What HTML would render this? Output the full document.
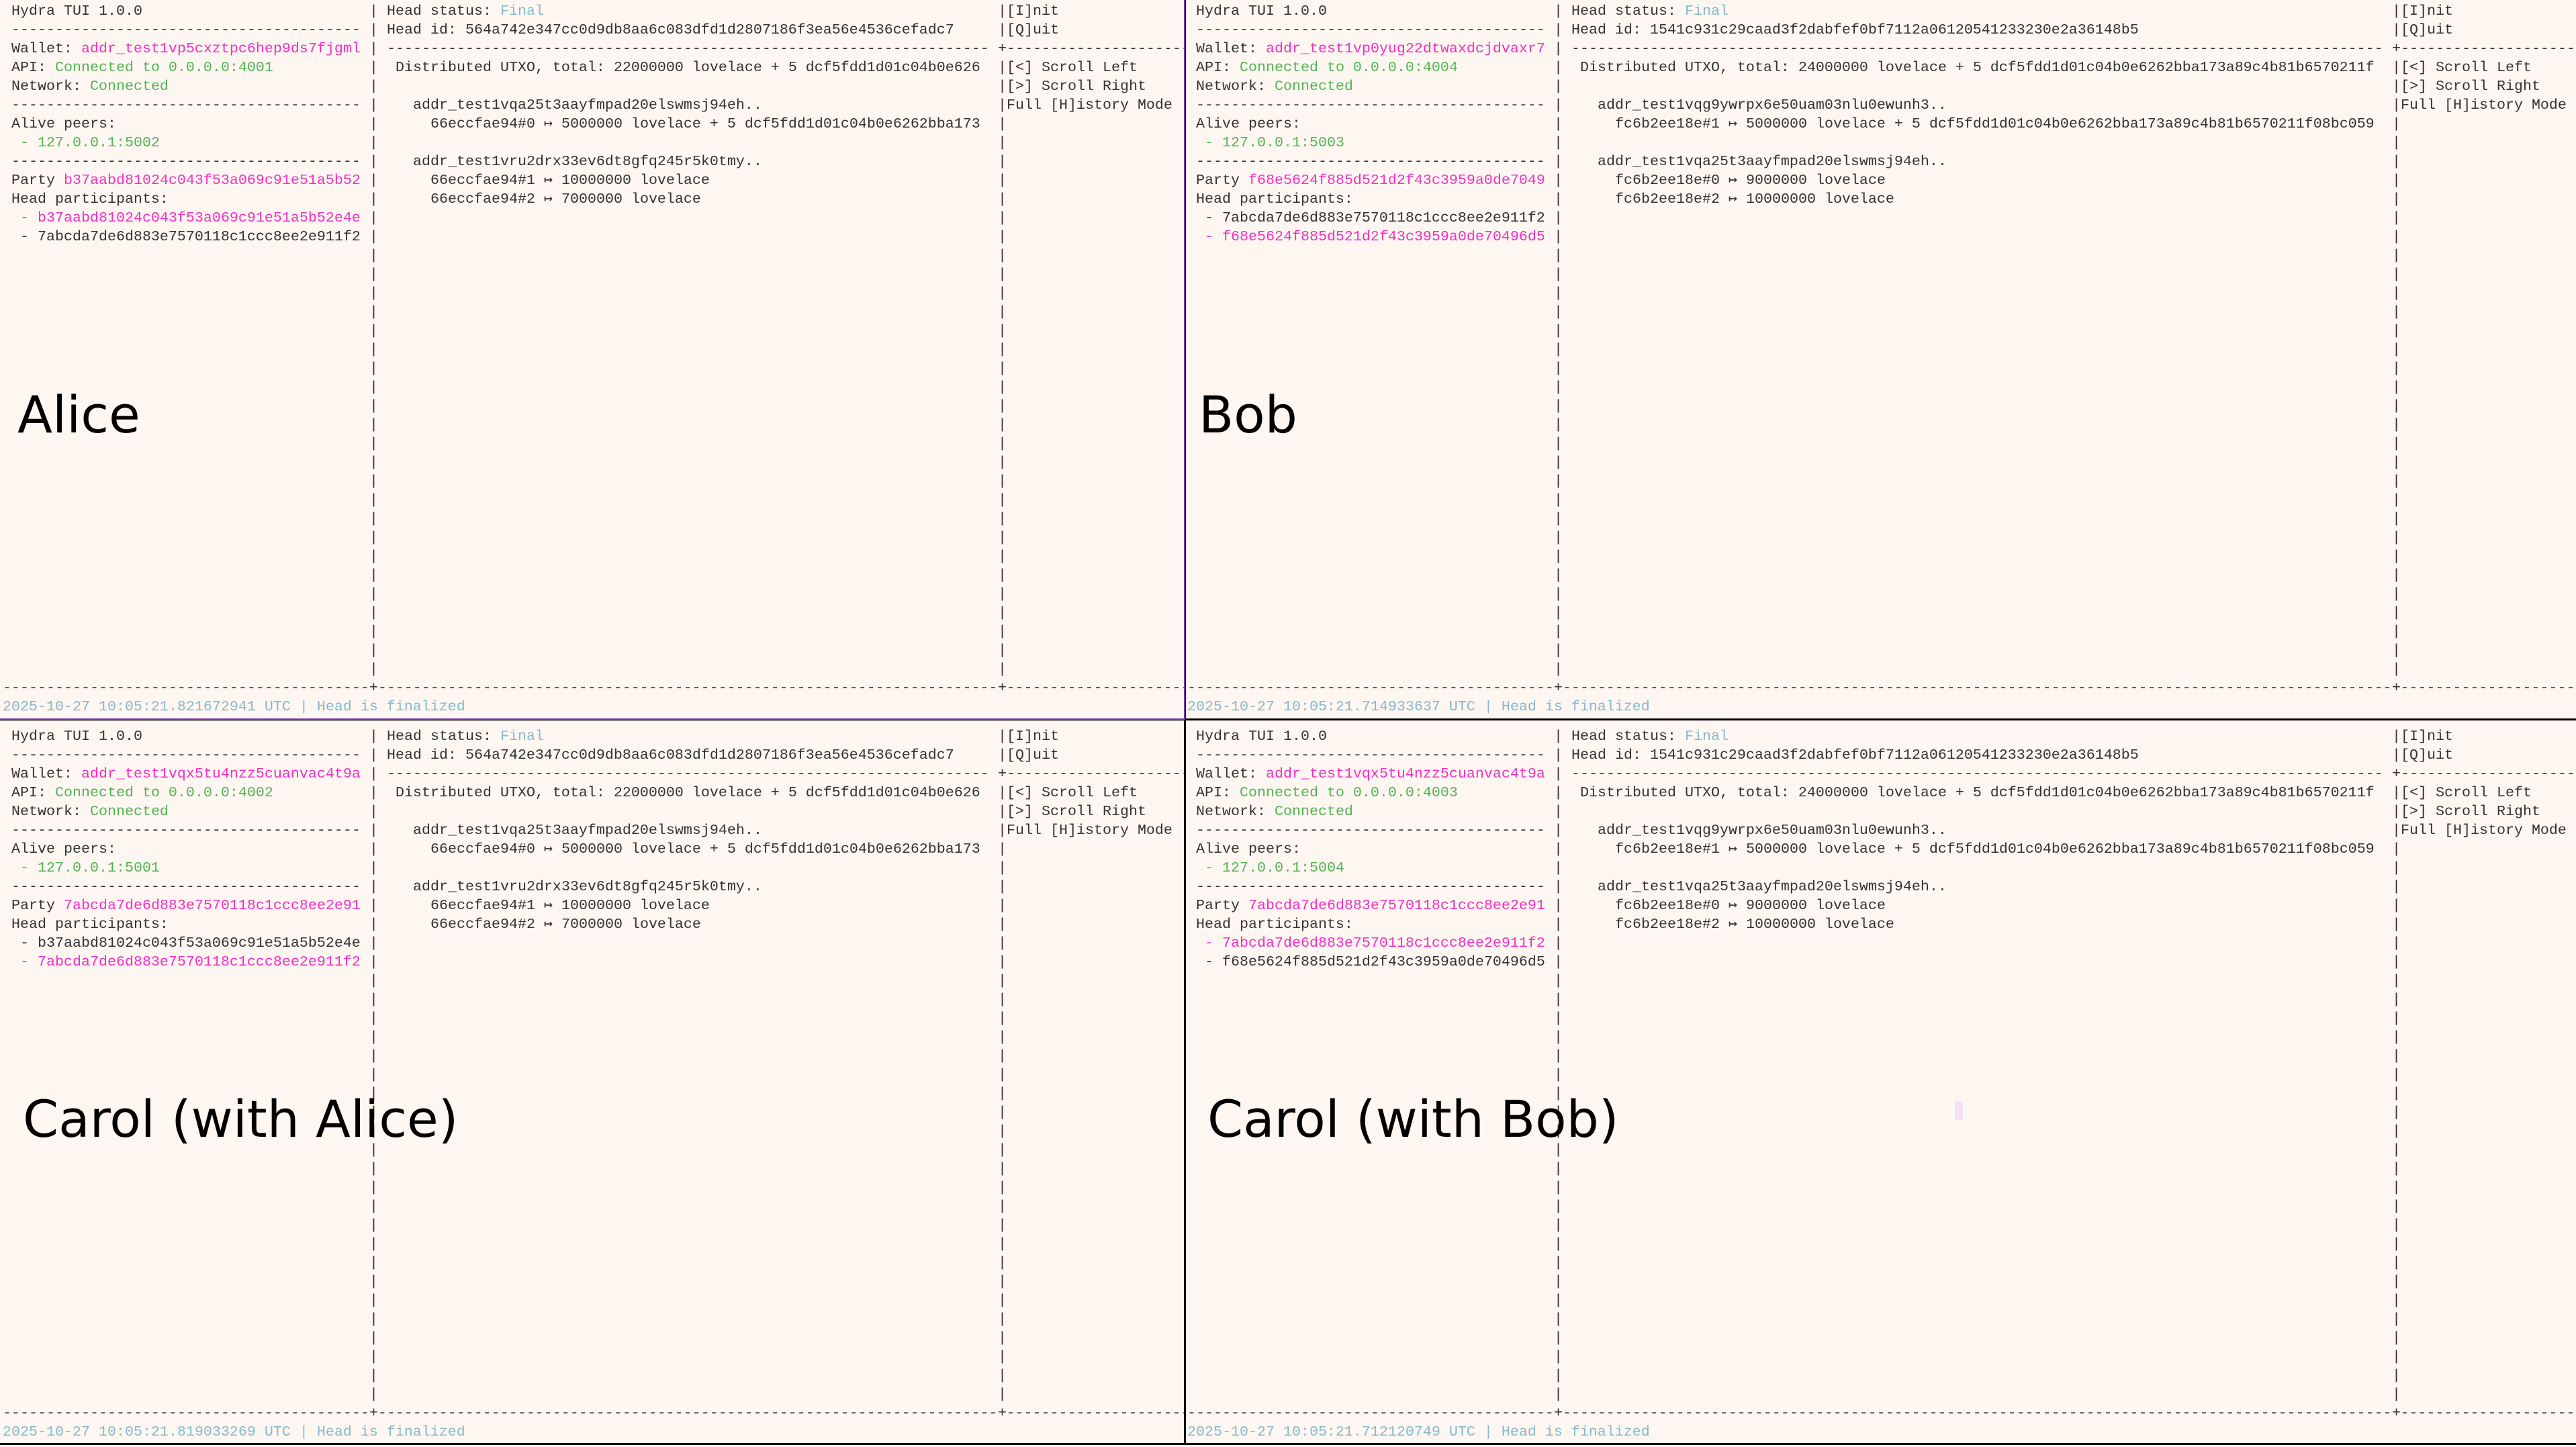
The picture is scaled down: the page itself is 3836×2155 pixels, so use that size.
<!DOCTYPE html>
<html><head><meta charset="utf-8"><style>
body{margin:0;width:3836px;height:2152px;background:#fdf6f1;position:relative;overflow:hidden;font-family:"Liberation Mono","DejaVu Sans Mono",monospace;font-size:21.667px;color:#333}
.q{position:absolute;width:2080px;height:1072px}
.t{position:absolute;white-space:pre;line-height:28px;height:28px}
.d{overflow:hidden}
.v{position:absolute;white-space:pre;line-height:28px;top:0}
.pl{position:absolute;white-space:pre;line-height:28px;background:#fdf6f1;width:13px;top:1008px}
.p{color:#f52ec6}.g{color:#52b452}.b{color:#86b9ca}
.lab{position:absolute;font-family:"DejaVu Sans","Liberation Sans",sans-serif;font-size:76px;line-height:76px;color:#000;white-space:pre}
.line{position:absolute}
</style></head><body>

<!-- ================= TL: Alice ================= -->
<div class="q" style="left:4px;top:3px">
<div class="t" style="top:0;left:13px">Hydra TUI 1.0.0</div>
<div class="t d" style="top:28px;left:13px;width:520px">----------------------------------------------------------------</div>
<div class="t" style="top:56px;left:13px">Wallet: <span class="p">addr_test1vp5cxztpc6hep9ds7fjgml</span></div>
<div class="t" style="top:84px;left:13px">API: <span class="g">Connected to 0.0.0.0:4001</span></div>
<div class="t" style="top:112px;left:13px">Network: <span class="g">Connected</span></div>
<div class="t d" style="top:140px;left:13px;width:520px">----------------------------------------------------------------</div>
<div class="t" style="top:168px;left:13px">Alive peers:</div>
<div class="t g" style="top:196px;left:13px"> - 127.0.0.1:5002</div>
<div class="t d" style="top:224px;left:13px;width:520px">----------------------------------------------------------------</div>
<div class="t" style="top:252px;left:13px">Party <span class="p">b37aabd81024c043f53a069c91e51a5b52</span></div>
<div class="t" style="top:280px;left:13px">Head participants:</div>
<div class="t p" style="top:308px;left:13px"> - b37aabd81024c043f53a069c91e51a5b52e4e</div>
<div class="t" style="top:336px;left:13px"> - 7abcda7de6d883e7570118c1ccc8ee2e911f2</div>
<div class="v" style="left:546px">|
|
|
|
|
|
|
|
|
|
|
|
|
|
|
|
|
|
|
|
|
|
|
|
|
|
|
|
|
|
|
|
|
|
|
|</div>
<div class="t" style="top:0;left:572px">Head status: <span class="b">Final</span></div>
<div class="t" style="top:28px;left:572px">Head id: 564a742e347cc0d9db8aa6c083dfd1d2807186f3ea56e4536cefadc7</div>
<div class="t d" style="top:56px;left:572px;width:897px">--------------------------------------------------------------------------------------------------------------------------------</div>
<div class="t" style="top:84px;left:585px">Distributed UTXO, total: 22000000 lovelace + 5 dcf5fdd1d01c04b0e626</div>
<div class="t" style="top:140px;left:611px">addr_test1vqa25t3aayfmpad20elswmsj94eh..</div>
<div class="t" style="top:168px;left:637px">66eccfae94#0 ↦ 5000000 lovelace + 5 dcf5fdd1d01c04b0e6262bba173</div>
<div class="t" style="top:224px;left:611px">addr_test1vru2drx33ev6dt8gfq245r5k0tmy..</div>
<div class="t" style="top:252px;left:637px">66eccfae94#1 ↦ 10000000 lovelace</div>
<div class="t" style="top:280px;left:637px">66eccfae94#2 ↦ 7000000 lovelace</div>
<div class="v" style="left:1482px">|
|
+
|
|
|
|
|
|
|
|
|
|
|
|
|
|
|
|
|
|
|
|
|
|
|
|
|
|
|
|
|
|
|
|
|</div>
<div class="t" style="top:0;left:1495px">[I]nit</div>
<div class="t" style="top:28px;left:1495px">[Q]uit</div>
<div class="t d" style="top:56px;left:1495px;width:265px">------------------------------</div>
<div class="t" style="top:84px;left:1495px">[&lt;] Scroll Left</div>
<div class="t" style="top:112px;left:1495px">[&gt;] Scroll Right</div>
<div class="t" style="top:140px;left:1495px">Full [H]istory Mode</div>
<div class="t d" style="top:1008px;left:0;width:1760px">------------------------------------------------------------------------------------------------------------------------------------------------------------------------------</div>
<div class="pl" style="left:546px">+</div><div class="pl" style="left:1482px">+</div>
<div class="t b" style="top:1036px;left:0">2025-10-27 10:05:21.821672941 UTC | Head is finalized</div>
</div>

<!-- ================= TR: Bob ================= -->
<div class="q" style="left:1768px;top:3px">
<div class="t" style="top:0;left:13px">Hydra TUI 1.0.0</div>
<div class="t d" style="top:28px;left:13px;width:520px">----------------------------------------------------------------</div>
<div class="t" style="top:56px;left:13px">Wallet: <span class="p">addr_test1vp0yug22dtwaxdcjdvaxr7</span></div>
<div class="t" style="top:84px;left:13px">API: <span class="g">Connected to 0.0.0.0:4004</span></div>
<div class="t" style="top:112px;left:13px">Network: <span class="g">Connected</span></div>
<div class="t d" style="top:140px;left:13px;width:520px">----------------------------------------------------------------</div>
<div class="t" style="top:168px;left:13px">Alive peers:</div>
<div class="t g" style="top:196px;left:13px"> - 127.0.0.1:5003</div>
<div class="t d" style="top:224px;left:13px;width:520px">----------------------------------------------------------------</div>
<div class="t" style="top:252px;left:13px">Party <span class="p">f68e5624f885d521d2f43c3959a0de7049</span></div>
<div class="t" style="top:280px;left:13px">Head participants:</div>
<div class="t" style="top:308px;left:13px"> - 7abcda7de6d883e7570118c1ccc8ee2e911f2</div>
<div class="t p" style="top:336px;left:13px"> - f68e5624f885d521d2f43c3959a0de70496d5</div>
<div class="v" style="left:546px">|
|
|
|
|
|
|
|
|
|
|
|
|
|
|
|
|
|
|
|
|
|
|
|
|
|
|
|
|
|
|
|
|
|
|
|</div>
<div class="t" style="top:0;left:572px">Head status: <span class="b">Final</span></div>
<div class="t" style="top:28px;left:572px">Head id: 1541c931c29caad3f2dabfef0bf7112a06120541233230e2a36148b5</div>
<div class="t d" style="top:56px;left:572px;width:1209px">--------------------------------------------------------------------------------------------------------------------------------</div>
<div class="t" style="top:84px;left:585px">Distributed UTXO, total: 24000000 lovelace + 5 dcf5fdd1d01c04b0e6262bba173a89c4b81b6570211f</div>
<div class="t" style="top:140px;left:611px">addr_test1vqg9ywrpx6e50uam03nlu0ewunh3..</div>
<div class="t" style="top:168px;left:637px">fc6b2ee18e#1 ↦ 5000000 lovelace + 5 dcf5fdd1d01c04b0e6262bba173a89c4b81b6570211f08bc059</div>
<div class="t" style="top:224px;left:611px">addr_test1vqa25t3aayfmpad20elswmsj94eh..</div>
<div class="t" style="top:252px;left:637px">fc6b2ee18e#0 ↦ 9000000 lovelace</div>
<div class="t" style="top:280px;left:637px">fc6b2ee18e#2 ↦ 10000000 lovelace</div>
<div class="v" style="left:1794px">|
|
+
|
|
|
|
|
|
|
|
|
|
|
|
|
|
|
|
|
|
|
|
|
|
|
|
|
|
|
|
|
|
|
|
|</div>
<div class="t" style="top:0;left:1807px">[I]nit</div>
<div class="t" style="top:28px;left:1807px">[Q]uit</div>
<div class="t d" style="top:56px;left:1807px;width:261px">------------------------------</div>
<div class="t" style="top:84px;left:1807px">[&lt;] Scroll Left</div>
<div class="t" style="top:112px;left:1807px">[&gt;] Scroll Right</div>
<div class="t" style="top:140px;left:1807px">Full [H]istory Mode</div>
<div class="t d" style="top:1008px;left:0;width:2068px">----------------------------------------------------------------------------------------------------------------------------------------------------------------------------------------------</div>
<div class="pl" style="left:546px">+</div><div class="pl" style="left:1794px">+</div>
<div class="t b" style="top:1036px;left:0">2025-10-27 10:05:21.714933637 UTC | Head is finalized</div>
</div>

<!-- ================= BL: Carol (with Alice) ================= -->
<div class="q" style="left:4px;top:1083px">
<div class="t" style="top:0;left:13px">Hydra TUI 1.0.0</div>
<div class="t d" style="top:28px;left:13px;width:520px">----------------------------------------------------------------</div>
<div class="t" style="top:56px;left:13px">Wallet: <span class="p">addr_test1vqx5tu4nzz5cuanvac4t9a</span></div>
<div class="t" style="top:84px;left:13px">API: <span class="g">Connected to 0.0.0.0:4002</span></div>
<div class="t" style="top:112px;left:13px">Network: <span class="g">Connected</span></div>
<div class="t d" style="top:140px;left:13px;width:520px">----------------------------------------------------------------</div>
<div class="t" style="top:168px;left:13px">Alive peers:</div>
<div class="t g" style="top:196px;left:13px"> - 127.0.0.1:5001</div>
<div class="t d" style="top:224px;left:13px;width:520px">----------------------------------------------------------------</div>
<div class="t" style="top:252px;left:13px">Party <span class="p">7abcda7de6d883e7570118c1ccc8ee2e91</span></div>
<div class="t" style="top:280px;left:13px">Head participants:</div>
<div class="t" style="top:308px;left:13px"> - b37aabd81024c043f53a069c91e51a5b52e4e</div>
<div class="t p" style="top:336px;left:13px"> - 7abcda7de6d883e7570118c1ccc8ee2e911f2</div>
<div class="v" style="left:546px">|
|
|
|
|
|
|
|
|
|
|
|
|
|
|
|
|
|
|
|
|
|
|
|
|
|
|
|
|
|
|
|
|
|
|
|</div>
<div class="t" style="top:0;left:572px">Head status: <span class="b">Final</span></div>
<div class="t" style="top:28px;left:572px">Head id: 564a742e347cc0d9db8aa6c083dfd1d2807186f3ea56e4536cefadc7</div>
<div class="t d" style="top:56px;left:572px;width:897px">--------------------------------------------------------------------------------------------------------------------------------</div>
<div class="t" style="top:84px;left:585px">Distributed UTXO, total: 22000000 lovelace + 5 dcf5fdd1d01c04b0e626</div>
<div class="t" style="top:140px;left:611px">addr_test1vqa25t3aayfmpad20elswmsj94eh..</div>
<div class="t" style="top:168px;left:637px">66eccfae94#0 ↦ 5000000 lovelace + 5 dcf5fdd1d01c04b0e6262bba173</div>
<div class="t" style="top:224px;left:611px">addr_test1vru2drx33ev6dt8gfq245r5k0tmy..</div>
<div class="t" style="top:252px;left:637px">66eccfae94#1 ↦ 10000000 lovelace</div>
<div class="t" style="top:280px;left:637px">66eccfae94#2 ↦ 7000000 lovelace</div>
<div class="v" style="left:1482px">|
|
+
|
|
|
|
|
|
|
|
|
|
|
|
|
|
|
|
|
|
|
|
|
|
|
|
|
|
|
|
|
|
|
|
|</div>
<div class="t" style="top:0;left:1495px">[I]nit</div>
<div class="t" style="top:28px;left:1495px">[Q]uit</div>
<div class="t d" style="top:56px;left:1495px;width:265px">------------------------------</div>
<div class="t" style="top:84px;left:1495px">[&lt;] Scroll Left</div>
<div class="t" style="top:112px;left:1495px">[&gt;] Scroll Right</div>
<div class="t" style="top:140px;left:1495px">Full [H]istory Mode</div>
<div class="t d" style="top:1008px;left:0;width:1760px">------------------------------------------------------------------------------------------------------------------------------------------------------------------------------</div>
<div class="pl" style="left:546px">+</div><div class="pl" style="left:1482px">+</div>
<div class="t b" style="top:1036px;left:0">2025-10-27 10:05:21.819033269 UTC | Head is finalized</div>
</div>

<!-- ================= BR: Carol (with Bob) ================= -->
<div class="q" style="left:1768px;top:1083px">
<div class="t" style="top:0;left:13px">Hydra TUI 1.0.0</div>
<div class="t d" style="top:28px;left:13px;width:520px">----------------------------------------------------------------</div>
<div class="t" style="top:56px;left:13px">Wallet: <span class="p">addr_test1vqx5tu4nzz5cuanvac4t9a</span></div>
<div class="t" style="top:84px;left:13px">API: <span class="g">Connected to 0.0.0.0:4003</span></div>
<div class="t" style="top:112px;left:13px">Network: <span class="g">Connected</span></div>
<div class="t d" style="top:140px;left:13px;width:520px">----------------------------------------------------------------</div>
<div class="t" style="top:168px;left:13px">Alive peers:</div>
<div class="t g" style="top:196px;left:13px"> - 127.0.0.1:5004</div>
<div class="t d" style="top:224px;left:13px;width:520px">----------------------------------------------------------------</div>
<div class="t" style="top:252px;left:13px">Party <span class="p">7abcda7de6d883e7570118c1ccc8ee2e91</span></div>
<div class="t" style="top:280px;left:13px">Head participants:</div>
<div class="t p" style="top:308px;left:13px"> - 7abcda7de6d883e7570118c1ccc8ee2e911f2</div>
<div class="t" style="top:336px;left:13px"> - f68e5624f885d521d2f43c3959a0de70496d5</div>
<div class="v" style="left:546px">|
|
|
|
|
|
|
|
|
|
|
|
|
|
|
|
|
|
|
|
|
|
|
|
|
|
|
|
|
|
|
|
|
|
|
|</div>
<div class="t" style="top:0;left:572px">Head status: <span class="b">Final</span></div>
<div class="t" style="top:28px;left:572px">Head id: 1541c931c29caad3f2dabfef0bf7112a06120541233230e2a36148b5</div>
<div class="t d" style="top:56px;left:572px;width:1209px">--------------------------------------------------------------------------------------------------------------------------------</div>
<div class="t" style="top:84px;left:585px">Distributed UTXO, total: 24000000 lovelace + 5 dcf5fdd1d01c04b0e6262bba173a89c4b81b6570211f</div>
<div class="t" style="top:140px;left:611px">addr_test1vqg9ywrpx6e50uam03nlu0ewunh3..</div>
<div class="t" style="top:168px;left:637px">fc6b2ee18e#1 ↦ 5000000 lovelace + 5 dcf5fdd1d01c04b0e6262bba173a89c4b81b6570211f08bc059</div>
<div class="t" style="top:224px;left:611px">addr_test1vqa25t3aayfmpad20elswmsj94eh..</div>
<div class="t" style="top:252px;left:637px">fc6b2ee18e#0 ↦ 9000000 lovelace</div>
<div class="t" style="top:280px;left:637px">fc6b2ee18e#2 ↦ 10000000 lovelace</div>
<div class="v" style="left:1794px">|
|
+
|
|
|
|
|
|
|
|
|
|
|
|
|
|
|
|
|
|
|
|
|
|
|
|
|
|
|
|
|
|
|
|
|</div>
<div class="t" style="top:0;left:1807px">[I]nit</div>
<div class="t" style="top:28px;left:1807px">[Q]uit</div>
<div class="t d" style="top:56px;left:1807px;width:261px">------------------------------</div>
<div class="t" style="top:84px;left:1807px">[&lt;] Scroll Left</div>
<div class="t" style="top:112px;left:1807px">[&gt;] Scroll Right</div>
<div class="t" style="top:140px;left:1807px">Full [H]istory Mode</div>
<div class="t d" style="top:1008px;left:0;width:2068px">----------------------------------------------------------------------------------------------------------------------------------------------------------------------------------------------</div>
<div class="pl" style="left:546px">+</div><div class="pl" style="left:1794px">+</div>
<div class="t b" style="top:1036px;left:0">2025-10-27 10:05:21.712120749 UTC | Head is finalized</div>
</div>

<!-- quadrant borders -->
<div class="line" style="left:1763px;top:0;width:3px;height:2152px;background:#000"></div>
<div class="line" style="left:0;top:1070px;width:3836px;height:3px;background:#000"></div>
<div class="line" style="left:1763px;top:0;width:2px;height:1072px;background:#7b2fb0"></div>
<div class="line" style="left:0;top:1070px;width:1765px;height:2px;background:#7b2fb0"></div>
<div class="line" style="left:0;top:2149px;width:3836px;height:3px;background:#000"></div>

<!-- big labels -->
<div class="lab" style="left:26px;top:580px">Alice</div>
<div class="lab" style="left:1785px;top:580px">Bob</div>
<div class="lab" style="left:34px;top:1629px">Carol (with Alice)</div>
<div class="lab" style="left:1798px;top:1629px">Carol (with Bob)</div>

<!-- small artifact -->
<div class="line" style="left:2911px;top:1640px;width:12px;height:28px;background:#f5e1f6"></div>
</body></html>
